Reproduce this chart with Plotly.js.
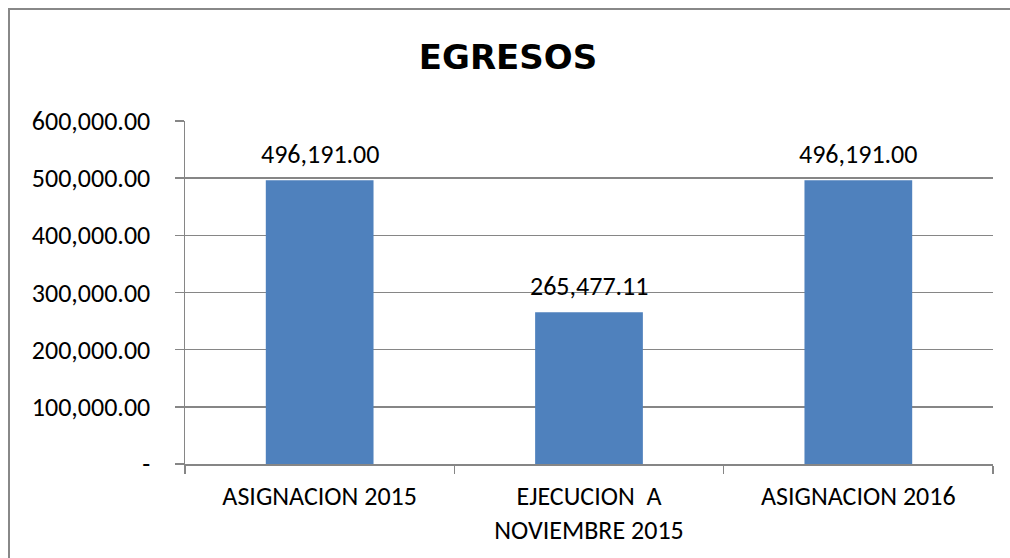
<!DOCTYPE html>
<html>
<head>
<meta charset="utf-8">
<script src="https://cdn.plot.ly/plotly-3.0.1.min.js"></script>
<style>html,body{margin:0;padding:0;background:#fff;}#chart{width:1010px;height:558px;}</style>
</head>
<body>
<div id="chart"></div>
<script>
const categories = ["ASIGNACION 2015", "EJECUCION\u00a0\u00a0A<br>NOVIEMBRE 2015", "ASIGNACION 2016"];
const values = [496191.00, 265477.11, 496191.00];
const valueLabels = ["496,191.00", "265,477.11", "496,191.00"];
const yTickVals = [0, 100000, 200000, 300000, 400000, 500000, 600000];
const yTickText = ["-", "100,000.00", "200,000.00", "300,000.00", "400,000.00", "500,000.00", "600,000.00"];

const FONT = "Carlito, Lato, 'Liberation Sans', sans-serif";
const GRID = "#868686";
const FS = 26;

const trace = {
  type: "bar",
  x: categories,
  y: values,
  marker: {color: "#4F81BD"},
  hoverinfo: "none"
};

const annotations = categories.map((c, i) => ({
  x: c, y: values[i], xref: "x", yref: "y",
  text: valueLabels[i], showarrow: false,
  yanchor: "bottom", yshift: 8,
  font: {family: FONT, size: FS, color: "#000"}
}));

const layout = {
  width: 1010, height: 558,
  margin: {l: 185, r: 17, t: 121, b: 94, pad: 0},
  paper_bgcolor: "#fff", plot_bgcolor: "#fff",
  showlegend: false,
  bargap: 0.6,
  title: {
    text: "<b>EGRESOS</b>",
    font: {family: "'DejaVu Sans', sans-serif", size: 34, color: "#000"},
    x: 508/1010, xref: "container", xanchor: "center",
    y: 1 - 57/558, yref: "container", yanchor: "middle"
  },
  xaxis: {
    type: "category",
    showgrid: false, zeroline: false,
    showline: true, linecolor: GRID, linewidth: 1.5,
    ticks: "outside", tickson: "boundaries", ticklen: 8, tickcolor: GRID, tickwidth: 1.5,
    tickfont: {family: FONT, size: FS, color: "#000"},
    ticklabelstandoff: 8,
    automargin: false
  },
  yaxis: {
    range: [0, 600000],
    tickvals: yTickVals, ticktext: yTickText,
    showgrid: true, gridcolor: GRID, gridwidth: 1.5,
    zeroline: false,
    showline: true, linecolor: GRID, linewidth: 1.5,
    ticks: "outside", ticklen: 9, tickcolor: GRID, tickwidth: 1.5,
    tickfont: {family: FONT, size: FS, color: "#000"},
    ticklabelstandoff: 19,
    automargin: false
  },
  annotations: annotations,
  shapes: [{
    type: "rect", xref: "paper", yref: "paper",
    x0: (9 - 185) / 808, x1: (1020 - 185) / 808,
    y0: -(570 - 464) / 343, y1: 1 + (121 - 9) / 343,
    line: {color: "#888888", width: 2}, fillcolor: "rgba(0,0,0,0)",
    layer: "below"
  }]
};

Plotly.newPlot("chart", [trace], layout, {displayModeBar: false, staticPlot: true});
</script>
</body>
</html>
